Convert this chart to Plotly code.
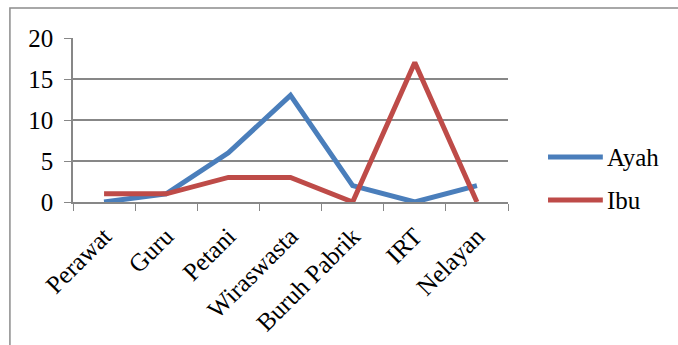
import plotly.graph_objects as go

categories = ["Perawat", "Guru", "Petani", "Wiraswasta", "Buruh Pabrik", "IRT", "Nelayan"]
ayah = [0, 1, 6, 13, 2, 0, 2]
ibu = [1, 1, 3, 3, 0, 17, 0]
y_ticks = [0, 5, 10, 15, 20]
series = [("Ayah", ayah, "#4A7EBB"), ("Ibu", ibu, "#BE4B48")]

FONT = "Liberation Serif"
GRID = "#878787"

fig = go.Figure()
for name, vals, color in series:
    fig.add_trace(go.Scatter(x=categories, y=vals, name=name, mode="lines",
                             line=dict(color=color, width=5), showlegend=False))

# outer chart frame (left and top edges visible)
fig.add_shape(type="path", xref="paper", yref="paper",
              path="M -0.145,-2 L -0.145,1.183 L 2,1.183",
              line=dict(color="#8c8c8c", width=1.5))

# legend: swatch line + label for each series
legend_y = [0.274, 0.012]
for (name, _, color), ly in zip(series, legend_y):
    fig.add_shape(type="line", xref="paper", yref="paper",
                  x0=1.092, x1=1.218, y0=ly, y1=ly,
                  line=dict(color=color, width=5))
    fig.add_annotation(xref="paper", yref="paper", x=1.222, y=ly,
                       xanchor="left", yanchor="middle", text=name,
                       showarrow=False, font=dict(size=25, family=FONT, color="black"))

fig.update_layout(
    width=678, height=345,
    margin=dict(l=73, r=170, t=38, b=143),
    paper_bgcolor="white", plot_bgcolor="white",
    font=dict(family=FONT, size=25, color="black"),
    xaxis=dict(type="category", range=[-0.5, 6.5], tickson="boundaries",
               ticks="outside", ticklen=7, tickcolor=GRID, showgrid=False,
               showline=True, linecolor=GRID, linewidth=1.5, tickangle=-45,
               ticklabelstandoff=8, automargin=False,
               tickfont=dict(size=25, family=FONT)),
    yaxis=dict(range=[0, 20], tickvals=y_ticks, ticks="outside", ticklen=7,
               tickcolor=GRID, showgrid=True, gridcolor=GRID, gridwidth=1.5,
               showline=True, linecolor=GRID, linewidth=1.5, zeroline=False,
               ticklabelstandoff=6, automargin=False,
               tickfont=dict(size=25, family=FONT)),
)

fig.write_html("out.html")
